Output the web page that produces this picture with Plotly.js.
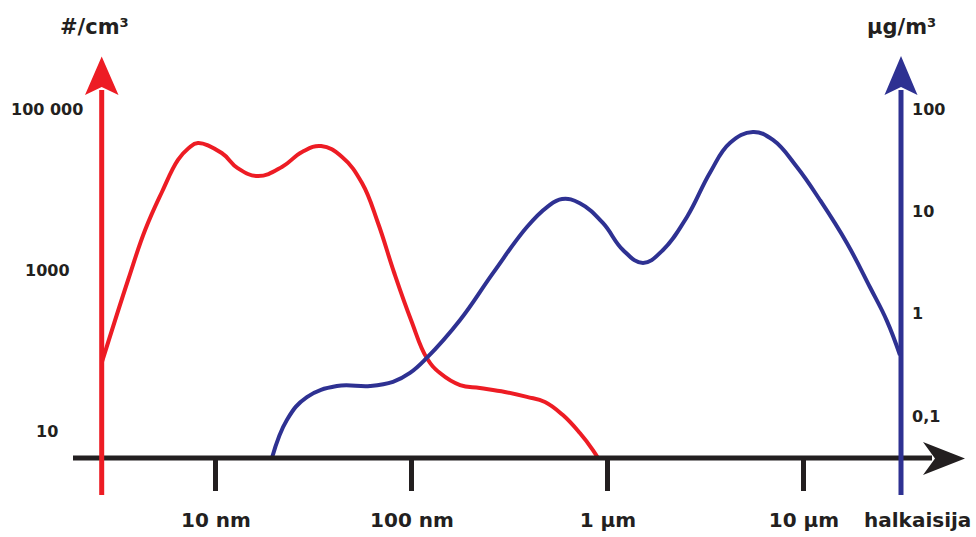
<!DOCTYPE html>
<html><head><meta charset="utf-8">
<script src="https://cdn.plot.ly/plotly-3.0.1.min.js"></script>
<style>html,body{margin:0;padding:0;background:#fff}#chart{width:976px;height:537px}</style>
</head><body><div id="chart"></div>
<script>
// Number size distribution (red, left axis): diameter in nm, concentration #/cm³
const numberDiameter = [2.62, 3.56, 4.35, 5.30, 6.40, 7.24, 8.09, 10.7, 12.9, 16.4, 21.7, 27.5, 34.4, 44.0, 55.6, 67.1, 80.9, 98.9, 119, 139, 176, 222, 298, 386, 477, 589, 719, 838, 889];
const numberConc = [73, 762, 3180, 9440, 23600, 33000, 38400, 28800, 18700, 14900, 19300, 29700, 35200, 25700, 12200, 3890, 958, 243, 81.9, 53.3, 37.8, 34.7, 31.0, 26.9, 23.3, 16.0, 9.57, 5.89, 4.69];
// Mass size distribution (blue, right axis): diameter in nm, concentration µg/m³
const massDiameter = [19.3, 23.0, 29.1, 41.4, 61.1, 80.0, 97.7, 119, 176, 259, 386, 489, 583, 719, 942, 1193, 1510, 1910, 2530, 3310, 4190, 5490, 6950, 9210, 12070, 16560, 21700, 26500, 30900];
const massConc = [0.0388, 0.0914, 0.153, 0.196, 0.196, 0.215, 0.263, 0.369, 0.867, 2.49, 7.03, 11.0, 13.2, 12.0, 7.69, 4.19, 3.13, 4.19, 8.81, 23.7, 46.5, 59.6, 49.8, 27.1, 12.9, 4.90, 1.82, 0.85, 0.394];

const xTickVals = [10, 100, 1000, 10000];
const xTickText = ['10 nm', '100 nm', '1 µm', '10 µm'];
const leftTickVals = [100000, 1000, 10];
const leftTickText = ['100 000', '1000', '10'];
const rightTickVals = [100, 10, 1, 0.1];
const rightTickText = ['100', '10', '1', '0,1'];
const leftTitle = '#/cm³';
const rightTitle = 'µg/m³';
const xTitle = 'halkaisija';

const RED = '#ED1C24', BLUE = '#2E3192', INK = '#231F20';
const FONT = 'DejaVu Sans';
const W = 976, H = 537, B = 79, PH = H - B;
const fx = v => v / W;
const fy = v => (PH - v) / PH;
const path = pts => 'M ' + pts.map(p => fx(p[0]).toFixed(5) + ',' + fy(p[1]).toFixed(5)).join(' L ') + ' Z';

const traces = [
  {x: numberDiameter, y: numberConc, type: 'scatter', mode: 'lines', yaxis: 'y',
   line: {color: RED, width: 4, shape: 'spline', smoothing: 1.2}, hoverinfo: 'skip'},
  {x: massDiameter, y: massConc, type: 'scatter', mode: 'lines', yaxis: 'y2',
   line: {color: BLUE, width: 4, shape: 'spline', smoothing: 1.2}, hoverinfo: 'skip'}
];

const shapes = [
  {type: 'line', xref: 'paper', yref: 'paper', x0: fx(73), x1: fx(932), y0: fy(458), y1: fy(458), line: {color: INK, width: 5}},
  {type: 'path', xref: 'paper', yref: 'paper', path: path([[965, 458.5], [923, 442], [935, 458.5], [923, 475]]), fillcolor: INK, line: {width: 0}},
  {type: 'line', xref: 'paper', yref: 'paper', x0: fx(101.7), x1: fx(101.7), y0: fy(495), y1: fy(90), line: {color: RED, width: 5}},
  {type: 'path', xref: 'paper', yref: 'paper', path: path([[101.7, 56.5], [118.5, 95], [101.7, 87], [85, 95]]), fillcolor: RED, line: {width: 0}},
  {type: 'line', xref: 'paper', yref: 'paper', x0: fx(901), x1: fx(901), y0: fy(495), y1: fy(90), line: {color: BLUE, width: 5}},
  {type: 'path', xref: 'paper', yref: 'paper', path: path([[901, 56], [917.5, 95], [901, 87], [884.5, 95]]), fillcolor: BLUE, line: {width: 0}}
];

const annotations = leftTickVals.map((v, i) => ({
  text: leftTickText[i], xref: 'paper', yref: 'y', x: fx(47), y: Math.log10(v),
  xanchor: 'center', yanchor: 'middle', showarrow: false,
  font: {family: FONT, size: 16, weight: 700, color: INK}
})).concat([
  {text: leftTitle, xref: 'paper', yref: 'paper', x: fx(94), y: fy(27), xanchor: 'center', yanchor: 'middle', showarrow: false,
   font: {family: FONT, size: 21, weight: 700, color: INK}},
  {text: rightTitle, xref: 'paper', yref: 'paper', x: fx(901), y: fy(27), xanchor: 'center', yanchor: 'middle', showarrow: false,
   font: {family: FONT, size: 21, weight: 700, color: INK}},
  {text: xTitle, xref: 'paper', yref: 'paper', x: fx(917), y: fy(520), xanchor: 'center', yanchor: 'middle', showarrow: false,
   font: {family: FONT, size: 20, weight: 700, color: INK}}
]);

const layout = {
  width: W, height: H,
  margin: {l: 0, r: 0, t: 0, b: B, pad: 0},
  paper_bgcolor: '#fff', plot_bgcolor: '#fff',
  showlegend: false,
  xaxis: {type: 'log', range: [-0.102, 4.878], domain: [0, 1], showgrid: false, zeroline: false, showline: false,
    tickmode: 'array', tickvals: xTickVals, ticktext: xTickText, ticks: 'outside', ticklen: 32, tickwidth: 5, tickcolor: INK,
    ticklabelstandoff: 12, tickfont: {family: FONT, size: 20, weight: 700, color: INK}, fixedrange: true},
  yaxis: {type: 'log', range: [0.671, 6.360], showgrid: false, zeroline: false, showline: false, showticklabels: false, ticks: '', fixedrange: true},
  yaxis2: {type: 'log', range: [-1.411, 3.065], overlaying: 'y', side: 'right', anchor: 'free', position: fx(901),
    showgrid: false, zeroline: false, showline: false, ticks: '',
    tickmode: 'array', tickvals: rightTickVals, ticktext: rightTickText, ticklabelstandoff: 10,
    tickfont: {family: FONT, size: 16, weight: 700, color: INK}, fixedrange: true},
  shapes: shapes,
  annotations: annotations
};

Plotly.newPlot('chart', traces, layout, {staticPlot: true, displayModeBar: false});
</script>
</body></html>
